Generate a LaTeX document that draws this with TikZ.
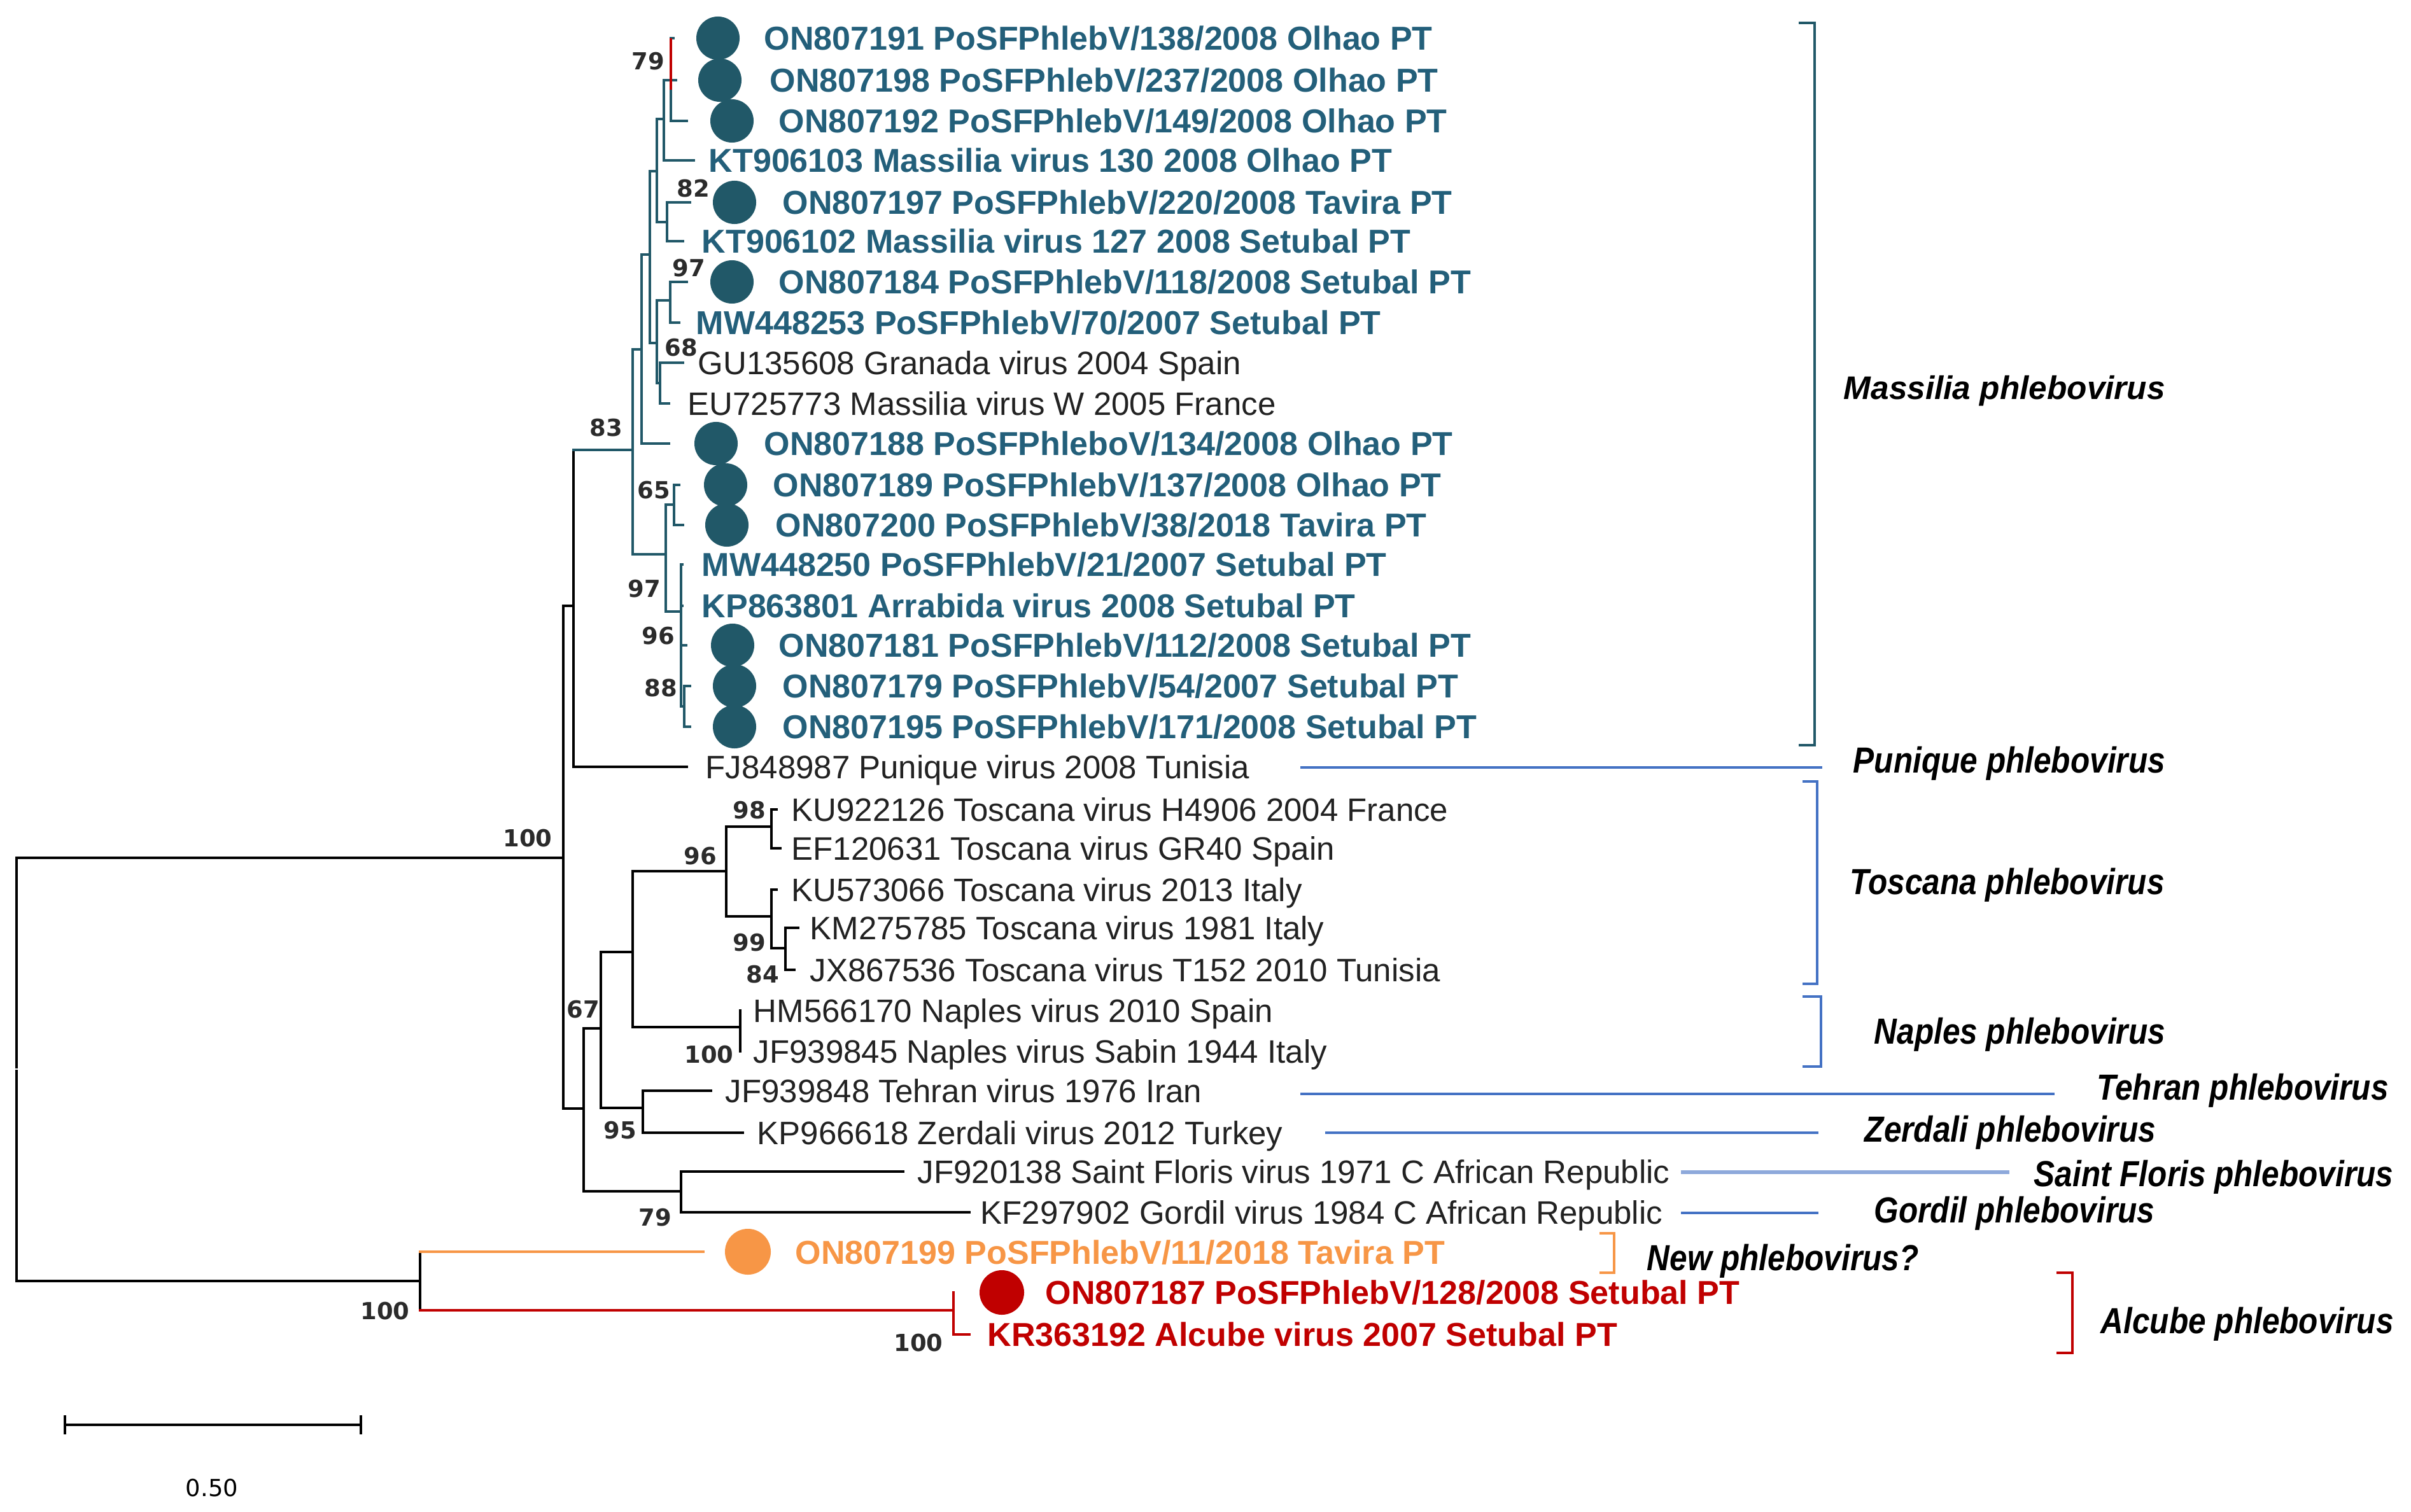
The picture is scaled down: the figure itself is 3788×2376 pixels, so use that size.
\documentclass[tikz,border=0pt]{standalone}
\usepackage{fontspec}
\setmainfont{Liberation Sans}
\newfontfamily\bsfont{DejaVu Sans}
\usepackage{graphicx}
\definecolor{tealL}{HTML}{215868}
\definecolor{tealX}{HTML}{235F7A}
\definecolor{blueL}{HTML}{4472C4}
\definecolor{blueLt}{HTML}{8EA9DB}
\definecolor{orng}{HTML}{F79646}
\definecolor{redd}{HTML}{C00000}
\definecolor{darkK}{HTML}{222222}
\definecolor{bsg}{HTML}{2B2B2B}
\begin{document}
\begin{tikzpicture}[x=0.01cm,y=-0.01cm,
  tr/.style={line width=1.3pt,line cap=rect,line join=miter},
  blk/.style={tr,black},
  tl/.style={tr,tealL},
  brk/.style={line width=1.3pt,line join=miter},
  lab/.style={anchor=base west,inner sep=0pt,yshift=-5.3pt,font=\fontsize{14.5pt}{17pt}\selectfont},
  labB/.style={anchor=base west,inner sep=0pt,yshift=-5.3pt,font=\fontsize{14.8pt}{17pt}\selectfont\bfseries},
  labT/.style={labB,text=tealX},
  labK/.style={lab,text=darkK},
  labO/.style={labB,text=orng},
  labR/.style={labB,text=redd},
  bs/.style={inner sep=0pt,text=bsg,font=\bsfont\fontsize{10.5pt}{12pt}\selectfont\bfseries},
  clade/.style={anchor=base west,inner sep=0pt,yshift=-5.8pt,font=\fontsize{16.2pt}{19pt}\selectfont\bfseries\itshape},
  dotS/.style={circle,inner sep=0pt,minimum size=0.68cm},
  dotT/.style={dotS,fill=tealL},
]
\useasboundingbox (0,0) rectangle (3788,2376);

% ---------- internal nodes ----------
\coordinate (Ru) at (26,1677);
\coordinate (Rl) at (26,1683);
\coordinate (A) at (885,1348);
\coordinate (B) at (901,952);
\coordinate (C) at (917,1742);
\coordinate (M) at (994,707);
\coordinate (M1) at (1008,549);
\coordinate (M2) at (1046,871);
\coordinate (M3) at (1021,400);
\coordinate (M4) at (1032,269);
\coordinate (M5) at (1032,539);
\coordinate (M6) at (1043,187);
\coordinate (N79) at (1054,126);
\coordinate (N82) at (1048,349);
\coordinate (N97) at (1053,472);
\coordinate (N68) at (1037,602);
\coordinate (N65) at (1059,793);
\coordinate (N96) at (1070,961);
\coordinate (N88) at (1075,1110);
\coordinate (N67) at (944,1616);
\coordinate (N79b) at (1070,1872);
\coordinate (T) at (994,1496);
\coordinate (N95) at (1010,1741);
\coordinate (N96t) at (1141,1369);
\coordinate (N100n) at (1163,1614);
\coordinate (N98) at (1212,1299);
\coordinate (N99) at (1212,1440);
\coordinate (N84) at (1234,1490);
\coordinate (O) at (660,2013);
\coordinate (N100a) at (1498,2059);
\coordinate (rT) at (1054,60);
\coordinate (rB) at (1054,141);

% ---------- leaf tips ----------
\coordinate (t1) at (1058,60);
\coordinate (t2) at (1062,126);
\coordinate (t3) at (1079,190);
\coordinate (t4) at (1090,252);
\coordinate (t5) at (1084,318);
\coordinate (t6) at (1073,379);
\coordinate (t7) at (1079,443);
\coordinate (t8) at (1067,507);
\coordinate (t9) at (1073,570);
\coordinate (t10) at (1051,634);
\coordinate (t11) at (1051,697);
\coordinate (t12) at (1067,762);
\coordinate (t13) at (1073,825);
\coordinate (t14) at (1072,887);
\coordinate (t15) at (1072,952);
\coordinate (t16) at (1078,1014);
\coordinate (t17) at (1084,1078);
\coordinate (t18) at (1084,1142);
\coordinate (t19) at (1079,1205);
\coordinate (t20) at (1220,1272);
\coordinate (t21) at (1226,1333);
\coordinate (t22) at (1220,1398);
\coordinate (t23) at (1254,1458);
\coordinate (t24) at (1248,1524);
\coordinate (t25) at (1163,1588);
\coordinate (t26) at (1163,1652);
\coordinate (t27) at (1117,1714);
\coordinate (t28) at (1167,1780);
\coordinate (t29) at (1419,1841);
\coordinate (t30) at (1523,1905);
\coordinate (t31) at (1105,1967);
\coordinate (t32) at (1498,2031);
\coordinate (t33) at (1523,2097);

% ---------- branches ----------
\draw[blk] (Ru) |- (A);
\draw[blk] (Rl) |- (O);
\draw[blk] (A) |- (B);
\draw[blk] (A) |- (C);
\draw[blk] (B) |- (t19);
\draw[blk] (B) -- (B |- M);
\draw[tl] (B |- M) -- (M);
\foreach \p/\c in {M/M1,M/M2,M1/M3,M1/t11,M3/M4,M3/M5,M4/M6,M4/N82,M6/N79,M6/t4,
  N79/t1,N79/t2,N79/t3,N82/t5,N82/t6,M5/N97,M5/N68,N97/t7,N97/t8,N68/t9,N68/t10,
  M2/N65,M2/N96,N65/t12,N65/t13,N96/t14,N96/t15,N96/t16,N96/N88,N88/t17,N88/t18}
  \draw[tl] (\p) |- (\c);
\draw[tr,redd,line cap=butt] (rT) -- (rB);
\foreach \p/\c in {C/N67,C/N79b,N67/T,N67/N95,T/N96t,T/N100n,N96t/N98,N96t/N99,
  N98/t20,N98/t21,N99/t22,N99/N84,N84/t23,N84/t24,N100n/t25,N100n/t26,
  N95/t27,N95/t28,N79b/t29,N79b/t30}
  \draw[blk] (\p) |- (\c);
\draw[blk] (O) -- (O |- t31);
\draw[tr,orng] (O |- t31) -- (t31);
\draw[blk] (O) -- (O |- N100a);
\draw[tr,redd] (O |- N100a) -- (N100a);
\draw[tr,redd] (N100a) |- (t32);
\draw[tr,redd] (N100a) |- (t33);

% ---------- dots ----------
\node[dotT] (D1) at (1128,60) {};
\node[dotT] (D2) at (1131,126) {};
\node[dotT] (D3) at (1150,190) {};
\node[dotT] (D5) at (1154,318) {};
\node[dotT] (D7) at (1150,443) {};
\node[dotT] (D11) at (1125,697) {};
\node[dotT] (D12) at (1140,762) {};
\node[dotT] (D13) at (1142,825) {};
\node[dotT] (D16) at (1151,1014) {};
\node[dotT] (D17) at (1154,1078) {};
\node[dotT] (D18) at (1154,1142) {};
\node[dotS,fill=orng,minimum size=0.72cm] (D31) at (1175,1967) {};
\node[dotS,fill=redd,minimum size=0.70cm] (D32) at (1574,2031) {};

% ---------- leaf labels ----------
\node[labT] (L1) at (1200,60) {ON807191 PoSFPhlebV/138/2008 Olhao PT};
\node[labT] (L2) at (1209,126) {ON807198 PoSFPhlebV/237/2008 Olhao PT};
\node[labT] (L3) at (1223,190) {ON807192 PoSFPhlebV/149/2008 Olhao PT};
\node[labT] (L4) at (1113,252) {KT906103 Massilia virus 130 2008 Olhao PT};
\node[labT] (L5) at (1229,318) {ON807197 PoSFPhlebV/220/2008 Tavira PT};
\node[labT] (L6) at (1102,379) {KT906102 Massilia virus 127 2008 Setubal PT};
\node[labT] (L7) at (1223,443) {ON807184 PoSFPhlebV/118/2008 Setubal PT};
\node[labT] (L8) at (1093,507) {MW448253 PoSFPhlebV/70/2007 Setubal PT};
\node[labK] (L9) at (1096,570) {GU135608 Granada virus 2004 Spain};
\node[labK] (L10) at (1080,634) {EU725773 Massilia virus W 2005 France};
\node[labT] (L11) at (1200,697) {ON807188 PoSFPhleboV/134/2008 Olhao PT};
\node[labT] (L12) at (1214,762) {ON807189 PoSFPhlebV/137/2008 Olhao PT};
\node[labT] (L13) at (1218,825) {ON807200 PoSFPhlebV/38/2018 Tavira PT};
\node[labT] (L14) at (1102,887) {MW448250 PoSFPhlebV/21/2007 Setubal PT};
\node[labT] (L15) at (1102,952) {KP863801 Arrabida virus 2008 Setubal PT};
\node[labT] (L16) at (1223,1014) {ON807181 PoSFPhlebV/112/2008 Setubal PT};
\node[labT] (L17) at (1229,1078) {ON807179 PoSFPhlebV/54/2007 Setubal PT};
\node[labT] (L18) at (1229,1142) {ON807195 PoSFPhlebV/171/2008 Setubal PT};
\node[labK] (L19) at (1108,1205) {FJ848987 Punique virus 2008 Tunisia};
\node[labK] (L20) at (1243,1272) {KU922126 Toscana virus H4906 2004 France};
\node[labK] (L21) at (1243,1333) {EF120631 Toscana virus GR40 Spain};
\node[labK] (L22) at (1243,1398) {KU573066 Toscana virus 2013 Italy};
\node[labK] (L23) at (1272,1458) {KM275785 Toscana virus 1981 Italy};
\node[labK] (L24) at (1272,1524) {JX867536 Toscana virus T152 2010 Tunisia};
\node[labK] (L25) at (1183,1588) {HM566170 Naples virus 2010 Spain};
\node[labK] (L26) at (1183,1652) {JF939845 Naples virus Sabin 1944 Italy};
\node[labK] (L27) at (1139,1714) {JF939848 Tehran virus 1976 Iran};
\node[labK] (L28) at (1189,1780) {KP966618 Zerdali virus 2012 Turkey};
\node[labK] (L29) at (1441,1841) {JF920138 Saint Floris virus 1971 C African Republic};
\node[labK] (L30) at (1540,1905) {KF297902 Gordil virus 1984 C African Republic};
\node[labO] (L31) at (1249,1968) {ON807199 PoSFPhlebV/11/2018 Tavira PT};
\node[labR] (L32) at (1642,2031) {ON807187 PoSFPhlebV/128/2008 Setubal PT};
\node[labR] (L33) at (1551,2097) {KR363192 Alcube virus 2007 Setubal PT};

% ---------- bootstrap values ----------
\node[bs] (b1) at (1018,96) {79};
\node[bs] (b2) at (1089,296) {82};
\node[bs] (b3) at (1082,421) {97};
\node[bs] (b4) at (1070,546) {68};
\node[bs] (b5) at (952,672) {83};
\node[bs] (b6) at (1027,770) {65};
\node[bs] (b7) at (1012,925) {97};
\node[bs] (b8) at (1034,999) {96};
\node[bs] (b9) at (1038,1081) {88};
\node[bs] (b10) at (829,1317) {100};
\node[bs] (b11) at (1177,1273) {98};
\node[bs] (b12) at (1100,1345) {96};
\node[bs] (b13) at (1177,1481) {99};
\node[bs] (b14) at (1198,1531) {84};
\node[bs] (b15) at (916,1586) {67};
\node[bs] (b16) at (1114,1657) {100};
\node[bs] (b17) at (974,1776) {95};
\node[bs] (b18) at (1029,1913) {79};
\node[bs] (b19) at (605,2060) {100};
\node[bs] (b20) at (1443,2110) {100};

% ---------- clade brackets and lines ----------
\draw[brk,tealL] (2826,36) -- (2851,36) -- (2851,1171) -- (2826,1171);
\draw[brk,blueL] (2043,1206) -- (2863,1206);
\draw[brk,blueL] (2832,1228) -- (2855,1228) -- (2855,1546) -- (2832,1546);
\draw[brk,blueL] (2832,1566) -- (2861,1566) -- (2861,1676) -- (2832,1676);
\draw[brk,blueL] (2043,1719) -- (3228,1719);
\draw[brk,blueL] (2082,1780) -- (2857,1780);
\draw[line width=1.8pt,blueLt] (2641,1842) -- (3157,1842);
\draw[brk,blueL] (2641,1906) -- (2857,1906);
\draw[brk,orng] (2513,1938) -- (2536,1938) -- (2536,2000) -- (2513,2000);
\draw[brk,redd] (3231,2000) -- (3256,2000) -- (3256,2126) -- (3231,2126);

% ---------- clade names ----------
\node[anchor=base west,inner sep=0pt,yshift=-5.3pt,font=\fontsize{14.6pt}{17pt}\selectfont\bfseries\itshape] (cM) at (2896,609) {Massilia phlebovirus};
\node[clade] (cP) at (2911,1194) {\scalebox{0.87}[1]{Punique phlebovirus}};
\node[clade] (cT) at (2906,1385) {\scalebox{0.87}[1]{Toscana phlebovirus}};
\node[clade] (cN) at (2944,1620) {\scalebox{0.87}[1]{Naples phlebovirus}};
\node[clade] (cTe) at (3294,1708) {\scalebox{0.87}[1]{Tehran phlebovirus}};
\node[clade] (cZ) at (2929,1774) {\scalebox{0.87}[1]{Zerdali phlebovirus}};
\node[clade] (cS) at (3195,1844) {\scalebox{0.87}[1]{Saint Floris phlebovirus}};
\node[clade] (cG) at (2944,1901) {\scalebox{0.87}[1]{Gordil phlebovirus}};
\node[clade] (cNew) at (2587,1976) {\scalebox{0.87}[1]{New phlebovirus?}};
\node[clade] (cA) at (3300,2075) {\scalebox{0.87}[1]{Alcube phlebovirus}};

% ---------- scale bar ----------
\coordinate (s1) at (102,2239);
\coordinate (s2) at (567,2239);
\draw[tr,line cap=butt] (s1) -- (s2);
\draw[tr,line cap=butt] (102,2224) -- (102,2254);
\draw[tr,line cap=butt] (567,2224) -- (567,2254);
\node[inner sep=0pt,font=\bsfont\fontsize{10.5pt}{12pt}\selectfont] (sl) at (333,2338) {0.50};
\end{tikzpicture}
\end{document}
